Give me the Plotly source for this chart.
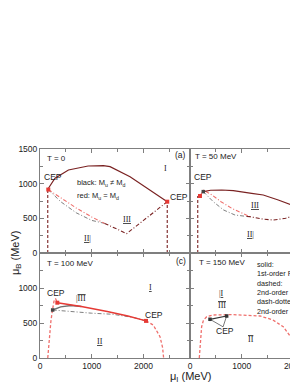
import plotly.graph_objects as go

FONT = "Liberation Sans, Arial, sans-serif"
SERIF = "Liberation Serif, Times New Roman, serif"
MAROON = "#7a2222"
RED = "#e63a35"
LRED = "#ef6f6c"
GRAY = "#707070"
AX = "#7f7f7f"
TXT = "#222222"

# ---------------- data ----------------
# T = 0
t0_upper_x = [160, 290, 550, 930, 1225, 1354, 1741, 2128, 2460]
t0_upper_y = [930, 1080, 1197, 1255, 1260, 1245, 1100, 910, 740]
t0_red_x = [160, 400, 700, 1000, 1250]
t0_red_y = [915, 800, 650, 520, 427]
t0_gray_x = [160, 400, 700, 1000, 1250]
t0_gray_y = [915, 740, 580, 470, 427]
t0_lower_x = [1250, 1676, 2000, 2460]
t0_lower_y = [427, 280, 470, 740]
t0_vline1_x = [150, 150]
t0_vline1_y = [0, 930]
t0_vline2_x = [2460, 2460]
t0_vline2_y = [0, 740]
t0_cep_x = [160, 2460]
t0_cep_y = [915, 740]

# T = 50 MeV
t50_upper_x = [257, 400, 613, 838, 1193, 1418, 1708, 2090]
t50_upper_y = [885, 905, 909, 899, 861, 837, 765, 659]
t50_red_x = [193, 260, 400, 600, 806, 1000, 1160]
t50_red_y = [822, 905, 850, 740, 645, 580, 524]
t50_gray_x = [257, 450, 650, 870, 1100]
t50_gray_y = [885, 740, 620, 548, 527]
t50_lower_x = [1100, 1160, 1400, 1611, 1850, 2090]
t50_lower_y = [527, 524, 490, 476, 500, 560]
t50_vline_x = [150, 150]
t50_vline_y = [0, 822]
t50_cep_red_x = [193]
t50_cep_red_y = [822]
t50_cep_blk_x = [257]
t50_cep_blk_y = [885]

# T = 100 MeV
t100_rdash_x = [150, 165, 185, 210, 240, 270, 300, 335]
t100_rdash_y = [0, 150, 330, 520, 680, 810, 850, 790]
t100_rsolid_x = [335, 800, 1300, 1700, 2050]
t100_rsolid_y = [790, 735, 665, 600, 530]
t100_rdash2_x = [2050, 2190, 2320, 2370, 2390]
t100_rdash2_y = [530, 471, 304, 150, 0]
t100_gsolid_x = [245, 400, 600, 800]
t100_gsolid_y = [686, 730, 750, 735]
t100_gdd_x = [245, 600, 1000, 1400, 1800, 2050]
t100_gdd_y = [686, 660, 640, 625, 580, 530]
t100_cep_red_x = [335, 2050]
t100_cep_red_y = [790, 530]
t100_cep_blk_x = [245]
t100_cep_blk_y = [686]

# T = 150 MeV
t150_rdash_x = [180, 200, 225, 260, 323, 451, 800, 1354, 1600, 1805, 1970, 2064, 2100]
t150_rdash_y = [0, 250, 447, 540, 590, 614, 620, 600, 545, 447, 280, 130, 40]
t150_cep_x = [387, 709]
t150_cep_y = [553, 600]
t150_link_x = [387, 640, 709]
t150_link_y = [553, 445, 600]

# ---------------- figure ----------------
fig = go.Figure()

DASH = "3px,2px"
DASHDOT = "4px,2px,1px,2px"


def line(x, y, ax, color, dash="solid", width=1.1):
    fig.add_trace(go.Scatter(x=x, y=y, xaxis="x" + ax, yaxis="y" + ax, mode="lines",
                             line=dict(color=color, dash=dash, width=width),
                             hoverinfo="skip", showlegend=False))


def dots(x, y, ax, color, size=4):
    fig.add_trace(go.Scatter(x=x, y=y, xaxis="x" + ax, yaxis="y" + ax, mode="markers",
                             marker=dict(color=color, size=size, symbol="square"),
                             hoverinfo="skip", showlegend=False))


# panel (a) T=0 -> axis 1
line(t0_vline1_x, t0_vline1_y, "", MAROON, DASH, 1.1)
line(t0_vline2_x, t0_vline2_y, "", MAROON, DASH, 1.1)
line(t0_gray_x, t0_gray_y, "", GRAY, DASHDOT, 0.9)
line(t0_red_x, t0_red_y, "", LRED, DASHDOT, 1.1)
line(t0_lower_x, t0_lower_y, "", MAROON, DASHDOT, 1.1)
line(t0_upper_x, t0_upper_y, "", MAROON, "solid", 1.2)
dots(t0_cep_x, t0_cep_y, "", RED)

# T=50 -> axis 2
line(t50_vline_x, t50_vline_y, "2", MAROON, DASH, 1.1)
line(t50_gray_x, t50_gray_y, "2", GRAY, DASHDOT, 0.9)
line(t50_red_x, t50_red_y, "2", LRED, DASHDOT, 1.1)
line(t50_lower_x, t50_lower_y, "2", MAROON, DASHDOT, 1.1)
line(t50_upper_x, t50_upper_y, "2", MAROON, "solid", 1.2)
dots(t50_cep_red_x, t50_cep_red_y, "2", RED)
dots(t50_cep_blk_x, t50_cep_blk_y, "2", "#444444", 3.5)

# T=100 -> axis 3
line(t100_rdash_x, t100_rdash_y, "3", LRED, DASH, 1.3)
line(t100_rdash2_x, t100_rdash2_y, "3", LRED, DASH, 1.3)
line(t100_gdd_x, t100_gdd_y, "3", GRAY, DASHDOT, 0.9)
line(t100_gsolid_x, t100_gsolid_y, "3", GRAY, "solid", 1.4)
line(t100_rsolid_x, t100_rsolid_y, "3", RED, "solid", 1.4)
dots(t100_cep_red_x, t100_cep_red_y, "3", RED)
dots(t100_cep_blk_x, t100_cep_blk_y, "3", "#444444", 3.5)

# T=150 -> axis 4
line(t150_rdash_x, t150_rdash_y, "4", LRED, DASH, 1.3)
line(t150_link_x, t150_link_y, "4", "#555555", "solid", 0.8)
line(t150_cep_x, t150_cep_y, "4", "#333333", "solid", 1.2)
dots(t150_cep_x, t150_cep_y, "4", "#333333", 3.5)

# page body has an 8px margin; size the figure so the plot lands where the reference is
OFF = 8
W, H = 298 - OFF, 385 - OFF
ML, MT, MB = 40 - OFF, 149 - OFF, 27
PW = W - ML
PH = H - MT - MB
xsplit = 150 / PW
ysplit = 105 / PH

tickfont = dict(family=FONT, size=8.5, color=TXT)


def xax(domain, anchor, labels, rng):
    return dict(domain=domain, anchor=anchor, range=rng, showline=True, linecolor=AX, linewidth=1,
                mirror="ticks", ticks="inside", ticklen=4, tickcolor=AX, tickmode="linear",
                tick0=0, dtick=1000, showticklabels=labels, showgrid=False, zeroline=False,
                ticklabeloverflow="allow",
                minor=dict(ticks="inside", ticklen=3, tick0=0, dtick=500, tickcolor=AX, showgrid=False),
                tickfont=tickfont)


def yax(domain, anchor, labels, mirror, top_label=True):
    return dict(domain=domain, anchor=anchor, range=[0, 1500], showline=True, linecolor=AX, linewidth=1,
                mirror=mirror, ticks="inside", ticklen=4, tickcolor=AX, showgrid=False, zeroline=False,
                showticklabels=labels, tickmode="array", tickvals=[0, 500, 1000, 1500],
                ticktext=["0", "500", "1000", "1500" if top_label else ""],
                ticklabeloverflow="allow",
                minor=dict(ticks="inside", ticklen=3, tick0=0, dtick=250, tickcolor=AX, showgrid=False),
                tickfont=tickfont)


fig.update_layout(
    template="none",
    width=W, height=H, margin=dict(l=ML, r=0, t=MT, b=MB, pad=0),
    paper_bgcolor="white", plot_bgcolor="white", showlegend=False,
    xaxis=xax([0, xsplit], "y", False, [0, 2900]),
    yaxis=yax([ysplit, 1], "x", True, "ticks"),
    xaxis2=xax([xsplit, 1], "y2", False, [0, 2090]),
    yaxis2=yax([ysplit, 1], "x2", False, False),
    xaxis3=xax([0, xsplit], "y3", True, [0, 2900]),
    yaxis3=yax([0, ysplit], "x3", True, "ticks", top_label=False),
    xaxis4=xax([xsplit, 1], "y4", True, [0, 2090]),
    yaxis4=yax([0, ysplit], "x4", False, False),
    font=dict(family=FONT, color=TXT, size=9),
)

ann = []


def txt(text, x, y, ax, size=8, xanchor="left", family=FONT, color=TXT, yanchor="middle", align="left"):
    ann.append(dict(text=text, x=x, y=y, xref="x" + ax, yref="y" + ax, showarrow=False,
                    xanchor=xanchor, yanchor=yanchor, align=align,
                    font=dict(family=family, size=size, color=color)))


# panel (a)
txt("T = 0", 100, 1366, "", 8)
txt("CEP", 39, 1100, "", 8.5)
txt("black: M<sub>u</sub> ≠ M<sub>d</sub>", 677, 1005, "", 7.5)
txt("red: M<sub>u</sub> = M<sub>d</sub>", 677, 822, "", 7.5)
txt("I", 2418, 1226, "", 8, "center", SERIF)
txt("<u>III</u>", 1676, 486, "", 8, "center", SERIF)
txt("<u>II</u>|", 918, 212, "", 8, "center", SERIF)
txt("(a)", 2862, 1413, "", 8.5, "right")
txt("CEP", 2481, 812, "", 8.5)

# T=50
txt("T = 50 MeV", 64, 1389, "2", 8)
txt("CEP", 44, 1092, "2", 8.5)
txt("<u>III</u>", 1257, 692, "2", 8, "center", SERIF)
txt("<u>II</u>|", 1180, 260, "2", 8, "center", SERIF)

# T=100
txt("T = 100 MeV", 97, 1343, "3", 8)
txt("CEP", 97, 933, "3", 8.5)
txt("|<span style='text-decoration:overline'>III</span>", 800, 853, "3", 8, "center", SERIF)
txt("<u>I</u>", 2127, 1010, "3", 8, "center", SERIF)
txt("<u>II</u>", 1160, 230, "3", 8, "center", SERIF)
txt("CEP", 1990, 614, "3", 8.5)
txt("(c)", 2862, 1386, "3", 8.5, "right")

# T=150
txt("T = 150 MeV", 130, 1361, "4", 8)
txt("solid:<br>1st-order PT<br>dashed:<br>2nd-order PT<br>dash-dotted:<br>2nd-order PT",
    1257, 1425, "4", 7.2, "left", yanchor="top", align="left")
txt("|<u>I</u>", 612, 924, "4", 8, "center", SERIF)
txt("<span style='text-decoration:overline'>III</span>", 612, 757, "4", 8, "center", SERIF)
txt("CEP", 677, 390, "4", 8.5, "center")
txt("<span style='text-decoration:overline'>II</span>", 1180, 267, "4", 8, "center", SERIF)

# axis titles
ann.append(dict(text="μ<sub>I</sub> (MeV)", x=xsplit, y=-(19 / PH), xref="paper", yref="paper",
                showarrow=False, xanchor="center", yanchor="middle",
                font=dict(family=FONT, size=11, color=TXT)))
ann.append(dict(text="μ<sub>B</sub> (MeV)", x=-(ML - 8) / PW, y=ysplit, xref="paper", yref="paper",
                showarrow=False, xanchor="center", yanchor="middle", textangle=-90,
                font=dict(family=FONT, size=11, color=TXT)))

fig.update_layout(annotations=ann)
fig.write_html("out.html")
